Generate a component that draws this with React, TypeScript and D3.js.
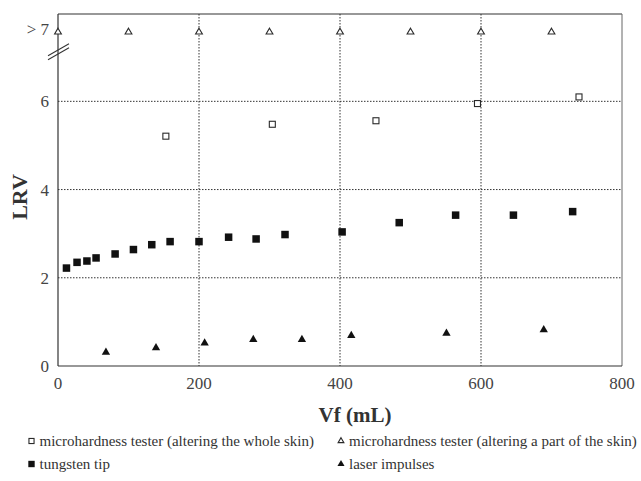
import React from "react";
import * as d3 from "d3";

const W = 641;
const H = 481;
const margin = { left: 58, right: 19, top: 14, bottom: 115 };

// Data
const wholeSkinX = [153, 304, 451, 595, 739];
const wholeSkinY = [5.21, 5.48, 5.56, 5.95, 6.1];

const partSkinX = [0, 100, 200, 300, 400, 500, 600, 700];
const OVER_SEVEN = 7.57; // plotted position of "> 7" row (above the axis break)

const tungstenX = [12, 27, 41, 54, 81, 107, 133, 159, 200, 242, 281, 322, 403, 484, 564, 646, 730];
const tungstenY = [2.22, 2.35, 2.38, 2.45, 2.54, 2.64, 2.75, 2.82, 2.82, 2.92, 2.88, 2.98, 3.04, 3.25, 3.42, 3.42, 3.5];

const laserX = [68, 139, 208, 277, 346, 416, 551, 689];
const laserY = [0.31, 0.41, 0.52, 0.6, 0.6, 0.69, 0.74, 0.82];

const xTicks = [0, 200, 400, 600, 800];
const yTicks = [0, 2, 4, 6];
const xGrid = [200, 400, 600];
const yGrid = [2, 4, 6];

const legendItems = [
  { label: "microhardness tester (altering the whole skin)", kind: "openSquare" },
  { label: "microhardness tester (altering a part of the skin)", kind: "openTriangle" },
  { label: "tungsten tip", kind: "filledSquare" },
  { label: "laser impulses", kind: "filledTriangle" },
];

const FONT = "Liberation Serif, Times New Roman, DejaVu Serif, serif";
const INK = "#2a2a2a";
const tf: React.CSSProperties = { fontFamily: FONT };

function Marker({ kind, x, y, s = 1 }: { kind: string; x: number; y: number; s?: number }) {
  if (kind === "openSquare") {
    const a = 6 * s;
    return <rect x={x - a / 2} y={y - a / 2} width={a} height={a} fill="#fff" stroke={INK} strokeWidth={1.1} />;
  }
  if (kind === "filledSquare") {
    const a = 7.5 * s;
    return <rect x={x - a / 2} y={y - a / 2} width={a} height={a} fill="#111" />;
  }
  if (kind === "openTriangle") {
    const p = d3.symbol().type(d3.symbolTriangle).size(20 * s * s)();
    return <path d={p || ""} transform={`translate(${x},${y})`} fill="#fff" stroke={INK} strokeWidth={1.1} />;
  }
  const p = d3.symbol().type(d3.symbolTriangle).size(30 * s * s)();
  return <path d={p || ""} transform={`translate(${x},${y})`} fill="#111" />;
}

export default function App() {
  const x = d3.scaleLinear().domain([0, 800]).range([margin.left, W - margin.right]);
  const y = d3.scaleLinear().domain([0, 7.98]).range([H - margin.bottom, margin.top]);
  const x0 = x(0), x1 = x(800), y0 = y(0), yTop = margin.top;
  const breakY = y(7.1);

  return (
    <svg width={W} height={H} style={{ position: "absolute", left: 0, top: 0, background: "#fff", fontFamily: FONT }}>
      <rect x={0} y={0} width={W} height={H} fill="#fff" />
      {/* grid */}
      {yGrid.map((v) => (
        <line key={"gy" + v} x1={x0} x2={x1} y1={y(v)} y2={y(v)} stroke="#333" strokeWidth={1} strokeDasharray="1.5,1.5" />
      ))}
      {xGrid.map((v) => (
        <line key={"gx" + v} x1={x(v)} x2={x(v)} y1={yTop} y2={y0} stroke="#333" strokeWidth={1} strokeDasharray="1.5,1.5" />
      ))}
      {/* frame */}
      <line x1={x0} x2={x1} y1={yTop} y2={yTop} stroke="#333" strokeWidth={1.2} />
      <line x1={x1} x2={x1} y1={yTop} y2={y0} stroke="#666" strokeWidth={1} />
      <line x1={x0} x2={x1} y1={y0} y2={y0} stroke="#333" strokeWidth={1.2} />
      <line x1={x0} x2={x0} y1={yTop} y2={y0} stroke="#333" strokeWidth={1.2} />
      {/* axis break */}
      <line x1={x0 - 10} x2={x0 + 11} y1={breakY + 7} y2={breakY - 5} stroke="#333" strokeWidth={1.1} />
      <line x1={x0 - 10} x2={x0 + 11} y1={breakY + 3} y2={breakY - 9} stroke="#333" strokeWidth={1.1} />
      {/* y tick labels */}
      {yTicks.map((v) => (
        <text key={"yt" + v} style={tf} x={x0 - 9} y={y(v)} dy="0.35em" textAnchor="end" fontSize={17} fill="#444">
          {v}
        </text>
      ))}
      <text style={tf} x={x0 - 9} y={y(OVER_SEVEN)} dy="0.2em" textAnchor="end" fontSize={17} fill="#444">
        {"> 7"}
      </text>
      {/* x tick labels */}
      {xTicks.map((v) => (
        <text key={"xt" + v} style={tf} x={x(v)} y={389} textAnchor="middle" fontSize={17} fill="#444">
          {v}
        </text>
      ))}
      {/* axis titles */}
      <text style={tf} x={(x0 + x1) / 2 + 15} y={422} textAnchor="middle" fontSize={21} fontWeight="bold" fill="#333">
        Vf (mL)
      </text>
      <text style={tf} transform={`translate(27,197) rotate(-90)`} textAnchor="middle" fontSize={22} fontWeight="bold" fill="#333">
        LRV
      </text>
      {/* data */}
      {wholeSkinX.map((v, i) => (
        <Marker key={"ws" + i} kind="openSquare" x={x(v)} y={y(wholeSkinY[i])} />
      ))}
      {partSkinX.map((v, i) => (
        <Marker key={"ps" + i} kind="openTriangle" x={x(v)} y={y(OVER_SEVEN)} />
      ))}
      {tungstenX.map((v, i) => (
        <Marker key={"tt" + i} kind="filledSquare" x={x(v)} y={y(tungstenY[i])} />
      ))}
      {laserX.map((v, i) => (
        <Marker key={"li" + i} kind="filledTriangle" x={x(v)} y={y(laserY[i])} />
      ))}
      {/* legend */}
      {legendItems.map((it, i) => {
        const col = i % 2;
        const row = Math.floor(i / 2);
        const mx = col === 0 ? 31.5 : 341;
        const by = row === 0 ? 446 : 469;
        return (
          <g key={"lg" + i}>
            <Marker kind={it.kind} x={mx} y={by - 5} s={0.85} />
            <text style={tf} x={mx + 8} y={by} fontSize={15} fill="#333">
              {it.label}
            </text>
          </g>
        );
      })}
    </svg>
  );
}
